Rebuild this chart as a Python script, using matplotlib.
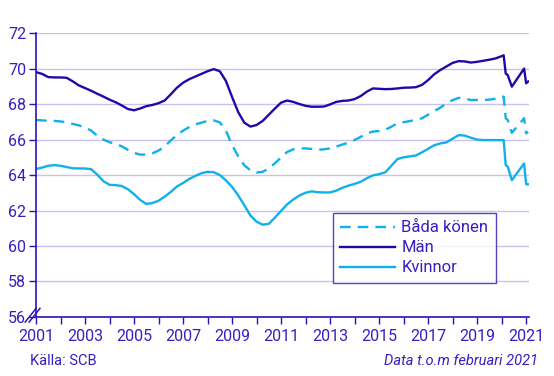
"""Sysselsättningsgrad per kön, 2001 - feb 2021 (SCB)."""
import numpy as np
import matplotlib
matplotlib.use("Agg")
import matplotlib.pyplot as plt
from matplotlib.lines import Line2D

plt.rcParams["font.family"] = ["Roboto", "DejaVu Sans"]

AXIS  = "#2A14B4"
TEXT  = "#3520C0"
GRID  = "#C9C2EE"
MAN   = "#1F0AA8"
KVIN  = "#12B0EA"

# quarterly sample times 2001.00 .. 2020.00, then the monthly tail
years_q = [2001 + 0.25 * i for i in range(77)]
years_tail = [2020.083, 2020.167, 2020.25, 2020.417, 2020.917, 2021.0, 2021.083]
years = years_q + years_tail

man = [
    69.80, 69.70, 69.52, 69.50, 69.50, 69.48, 69.28, 69.05,
    68.90, 68.75, 68.58, 68.42, 68.25, 68.10, 67.92, 67.72,
    67.65, 67.75, 67.88, 67.95, 68.05, 68.20, 68.55, 68.92,
    69.20, 69.40, 69.55, 69.70, 69.85, 69.97, 69.85, 69.30,
    68.40, 67.55, 66.95, 66.73, 66.82, 67.05, 67.40, 67.75,
    68.08, 68.20, 68.12, 68.00, 67.90, 67.85, 67.85, 67.86,
    67.98, 68.12, 68.18, 68.20, 68.28, 68.45, 68.70, 68.88,
    68.86, 68.84, 68.85, 68.88, 68.92, 68.93, 68.95, 69.08,
    69.35, 69.68, 69.92, 70.12, 70.32, 70.42, 70.40, 70.34,
    70.38, 70.44, 70.50, 70.57, 70.70,
    70.75, 69.72, 69.63, 68.98, 70.00, 69.17, 69.27,
]

bada = [
    67.10, 67.08, 67.06, 67.05, 67.02, 66.97, 66.88, 66.80,
    66.68, 66.50, 66.22, 66.00, 65.85, 65.75, 65.62, 65.42,
    65.25, 65.15, 65.15, 65.22, 65.38, 65.60, 65.95, 66.26,
    66.50, 66.70, 66.85, 66.95, 67.05, 67.08, 66.97, 66.50,
    65.70, 65.05, 64.55, 64.26, 64.14, 64.18, 64.38, 64.66,
    65.00, 65.30, 65.45, 65.50, 65.50, 65.47, 65.42, 65.45,
    65.50, 65.60, 65.72, 65.82, 65.97, 66.15, 66.35, 66.45,
    66.48, 66.55, 66.72, 66.92, 66.98, 67.04, 67.10, 67.20,
    67.40, 67.60, 67.80, 68.05, 68.22, 68.35, 68.30, 68.23,
    68.23, 68.23, 68.25, 68.30, 68.40,
    68.42, 67.20, 67.10, 66.38, 67.20, 66.35, 66.43,
]

kvinnor = [
    64.34, 64.42, 64.52, 64.56, 64.52, 64.45, 64.38, 64.37,
    64.37, 64.33, 64.02, 63.65, 63.45, 63.43, 63.38, 63.20,
    62.92, 62.60, 62.37, 62.42, 62.55, 62.78, 63.05, 63.35,
    63.55, 63.78, 63.95, 64.10, 64.18, 64.16, 64.00, 63.70,
    63.33, 62.85, 62.30, 61.72, 61.37, 61.20, 61.25, 61.60,
    61.98, 62.35, 62.62, 62.85, 63.00, 63.08, 63.03, 63.02,
    63.02, 63.12, 63.28, 63.40, 63.50, 63.62, 63.82, 63.98,
    64.05, 64.15, 64.52, 64.90, 65.00, 65.05, 65.10, 65.28,
    65.48, 65.68, 65.78, 65.84, 66.05, 66.25, 66.22, 66.10,
    66.00, 65.97, 65.97, 65.97, 65.97,
    65.97, 64.56, 64.47, 63.71, 64.65, 63.48, 63.48,
]

y_ticks = list(range(56, 73, 2))
x_labels = list(range(2001, 2022, 2))

fig = plt.figure(figsize=(5.54, 3.76), dpi=100)
ax = fig.add_axes([0.065, 0.157, 0.89, 0.755])

ax.plot(years, bada, color=KVIN, lw=1.7, ls=(0, (4.5, 3)), label="Båda könen")
ax.plot(years, man, color=MAN, lw=1.7, label="Män")
ax.plot(years, kvinnor, color=KVIN, lw=1.7, label="Kvinnor")

ax.set_xlim(2001, 2021.12)
ax.set_ylim(56, 72)
ax.set_yticks(y_ticks)
ax.set_xticks(range(2001, 2022))
ax.set_xticklabels([str(y) if y in x_labels else "" for y in range(2001, 2022)])

ax.grid(axis="y", color=GRID, lw=1)
ax.set_axisbelow(True)
for s in ("top", "right"):
    ax.spines[s].set_visible(False)
for s in ("left", "bottom"):
    ax.spines[s].set_color(AXIS)
    ax.spines[s].set_linewidth(1.2)
ax.tick_params(colors=AXIS, labelcolor=TEXT, labelsize=11.5, length=5, width=1)
ax.tick_params(axis="x", pad=4)
ax.tick_params(axis="y", pad=2)

# axis break mark at the foot of the y axis
for dx in (-0.012, -0.004):
    ax.add_line(Line2D([dx - 0.01, dx + 0.012], [-0.018, 0.03], transform=ax.transAxes,
                       color=AXIS, lw=1.1, clip_on=False))

leg = ax.legend(loc="lower left", bbox_to_anchor=(0.602, 0.12), frameon=True,
                fancybox=False, fontsize=12, handlelength=3.3, handletextpad=0.35,
                labelspacing=0.3, borderpad=0.45, borderaxespad=0, labelcolor=TEXT)
leg.get_frame().set_edgecolor(AXIS)
leg.get_frame().set_linewidth(1.0)

fig.text(0.054, 0.03, "Källa: SCB", color=TEXT, fontsize=10.5)
fig.text(0.972, 0.03, "Data t.o.m februari 2021", color=TEXT, fontsize=10.5,
         style="italic", ha="right")

fig.savefig("out.png", dpi=100)
